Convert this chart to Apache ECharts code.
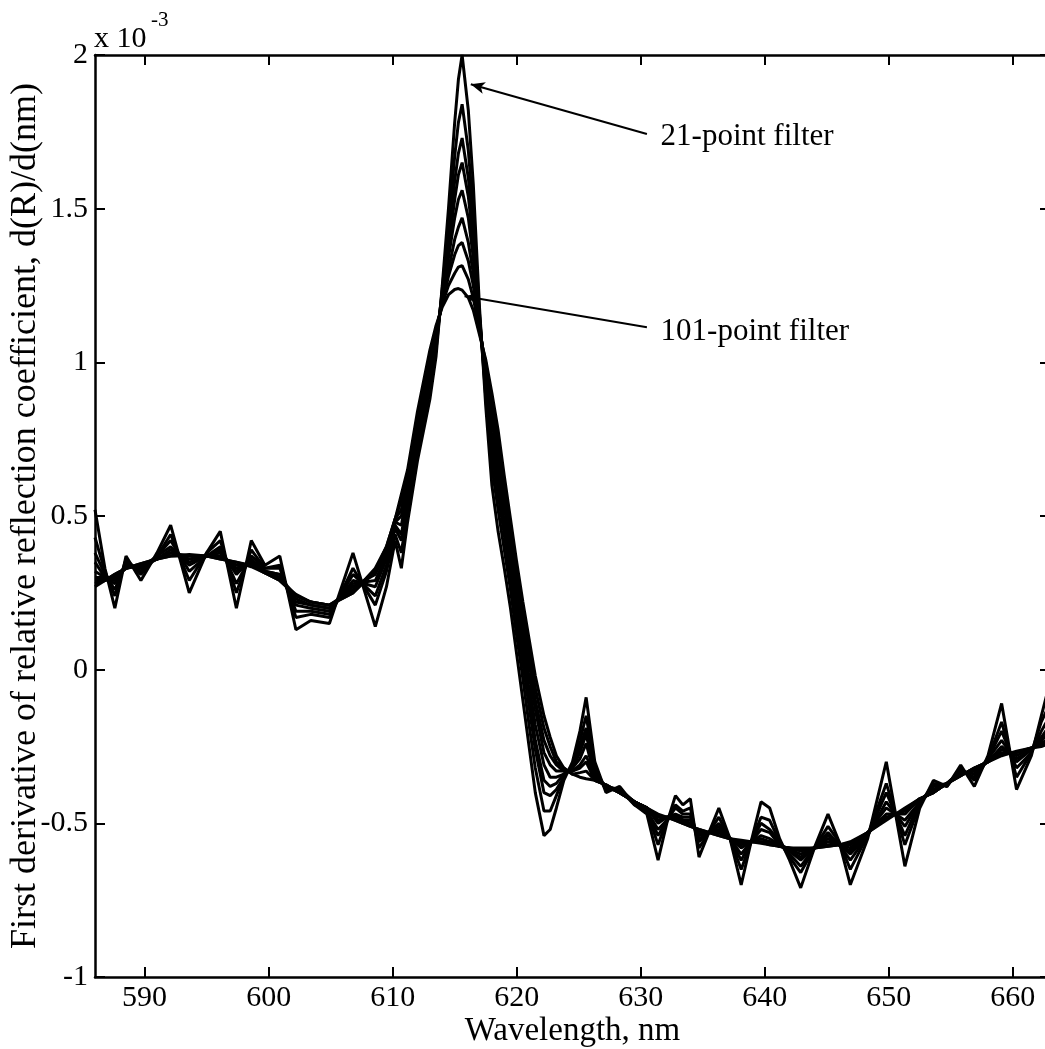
<!DOCTYPE html>
<html><head><meta charset="utf-8">
<script src="https://cdn.jsdelivr.net/npm/echarts@6/dist/echarts.min.js"></script>
<style>html,body{margin:0;padding:0;background:#fff}#c{width:1045px;height:1049px}</style>
</head><body><div id="c"></div>
<script>
// Wavelength grid (nm)
const wavelengths = [
 586, 586.8, 587.6, 588.5, 589.7, 591, 592.1, 593.6, 595, 596.1,
 597.4, 598.6, 599.7, 600.9, 602.2, 603.4, 604.9, 606.8, 608.6, 609.5,
 610.2, 610.7, 611.2, 612, 613, 613.5, 614, 614.5, 615, 615.3,
 615.6, 616.1, 616.5, 617, 617.5, 618, 618.5, 619, 619.5, 620,
 620.5, 621, 621.5, 622.2, 622.7, 623.2, 623.8, 624.5, 625.1, 625.6,
 626.3, 627.2, 628.3, 629.5, 630.5, 631.4, 632.1, 632.8, 633.4, 634.0,
 634.7, 635.5, 636.3, 637.2, 638.1, 638.9, 639.7, 640.4, 641.2, 642.0,
 642.9, 644.0, 645.1, 646.0, 646.9, 648.3, 649.8, 651.3, 652.5, 653.6,
 654.7, 655.8, 656.9, 658.0, 659.1, 660.3, 661.5, 662.3, 663
];
// First derivative values (x 10^-3) for each filter length
const filter21 = [
 0.52, 0.33, 0.20, 0.37, 0.29, 0.38, 0.47, 0.25, 0.38, 0.45,
 0.20, 0.42, 0.34, 0.37, 0.13, 0.16, 0.15, 0.38, 0.14, 0.27,
 0.42, 0.33, 0.48, 0.68, 0.88, 1.02, 1.25, 1.50, 1.78, 1.92,
 2.00, 1.82, 1.58, 1.18, 0.86, 0.60, 0.45, 0.33, 0.20, 0.05,
 -0.10, -0.25, -0.40, -0.54, -0.52, -0.45, -0.36, -0.30, -0.20, -0.09,
 -0.30, -0.40, -0.38, -0.44, -0.47, -0.62, -0.50, -0.41, -0.44, -0.42,
 -0.61, -0.53, -0.45, -0.55, -0.70, -0.56, -0.43, -0.45, -0.55, -0.62,
 -0.71, -0.58, -0.47, -0.56, -0.70, -0.55, -0.30, -0.64, -0.45, -0.36,
 -0.38, -0.31, -0.38, -0.28, -0.11, -0.39, -0.28, -0.15, -0.04
];
const filter31 = [
 0.43, 0.32, 0.24, 0.36, 0.31, 0.37, 0.44, 0.29, 0.38, 0.42,
 0.25, 0.39, 0.33, 0.34, 0.17, 0.18, 0.17, 0.33, 0.21, 0.32,
 0.44, 0.38, 0.52, 0.71, 0.91, 1.04, 1.24, 1.44, 1.67, 1.78,
 1.84, 1.69, 1.49, 1.16, 0.89, 0.66, 0.52, 0.39, 0.26, 0.11,
 -0.03, -0.18, -0.32, -0.46, -0.46, -0.41, -0.35, -0.31, -0.23, -0.15,
 -0.32, -0.39, -0.39, -0.44, -0.46, -0.57, -0.49, -0.44, -0.46, -0.45,
 -0.58, -0.53, -0.48, -0.55, -0.65, -0.56, -0.48, -0.49, -0.56, -0.61,
 -0.66, -0.58, -0.51, -0.56, -0.65, -0.54, -0.37, -0.57, -0.44, -0.37,
 -0.38, -0.32, -0.36, -0.29, -0.17, -0.35, -0.27, -0.17, -0.11
];
const filter41 = [
 0.38, 0.31, 0.26, 0.35, 0.32, 0.37, 0.42, 0.32, 0.37, 0.40,
 0.28, 0.37, 0.33, 0.33, 0.19, 0.19, 0.18, 0.31, 0.24, 0.34,
 0.46, 0.42, 0.54, 0.74, 0.94, 1.06, 1.23, 1.40, 1.59, 1.68,
 1.73, 1.60, 1.43, 1.15, 0.91, 0.71, 0.57, 0.44, 0.30, 0.16,
 0.02, -0.12, -0.26, -0.40, -0.41, -0.39, -0.35, -0.31, -0.25, -0.19,
 -0.33, -0.39, -0.39, -0.43, -0.46, -0.54, -0.49, -0.45, -0.47, -0.47,
 -0.56, -0.53, -0.50, -0.55, -0.62, -0.56, -0.50, -0.52, -0.56, -0.60,
 -0.64, -0.58, -0.53, -0.57, -0.62, -0.54, -0.40, -0.54, -0.43, -0.38,
 -0.37, -0.33, -0.35, -0.29, -0.20, -0.32, -0.27, -0.20, -0.15
];
const filter51 = [
 0.35, 0.30, 0.28, 0.34, 0.33, 0.37, 0.40, 0.34, 0.37, 0.39,
 0.31, 0.36, 0.32, 0.31, 0.21, 0.20, 0.19, 0.29, 0.27, 0.36,
 0.47, 0.44, 0.56, 0.75, 0.95, 1.07, 1.22, 1.37, 1.53, 1.61,
 1.65, 1.54, 1.39, 1.14, 0.93, 0.74, 0.60, 0.47, 0.33, 0.19,
 0.05, -0.09, -0.23, -0.36, -0.38, -0.37, -0.34, -0.32, -0.27, -0.21,
 -0.34, -0.38, -0.39, -0.43, -0.46, -0.52, -0.49, -0.47, -0.48, -0.48,
 -0.55, -0.53, -0.51, -0.55, -0.60, -0.56, -0.52, -0.53, -0.57, -0.59,
 -0.62, -0.58, -0.54, -0.57, -0.60, -0.54, -0.43, -0.51, -0.43, -0.39,
 -0.37, -0.33, -0.34, -0.29, -0.23, -0.30, -0.26, -0.22, -0.18
];
const filter61 = [
 0.32, 0.30, 0.29, 0.34, 0.33, 0.36, 0.39, 0.35, 0.37, 0.38,
 0.32, 0.35, 0.32, 0.31, 0.22, 0.21, 0.20, 0.28, 0.29, 0.37,
 0.48, 0.47, 0.58, 0.77, 0.97, 1.08, 1.21, 1.34, 1.47, 1.53,
 1.56, 1.47, 1.34, 1.13, 0.95, 0.77, 0.64, 0.50, 0.37, 0.22,
 0.09, -0.05, -0.18, -0.31, -0.35, -0.35, -0.34, -0.32, -0.29, -0.24,
 -0.35, -0.38, -0.40, -0.43, -0.45, -0.50, -0.48, -0.47, -0.49, -0.49,
 -0.54, -0.53, -0.52, -0.55, -0.58, -0.56, -0.54, -0.55, -0.57, -0.59,
 -0.61, -0.58, -0.55, -0.57, -0.59, -0.53, -0.45, -0.49, -0.43, -0.39,
 -0.37, -0.34, -0.33, -0.30, -0.25, -0.29, -0.26, -0.23, -0.20
];
const filter71 = [
 0.30, 0.30, 0.30, 0.33, 0.34, 0.36, 0.38, 0.36, 0.37, 0.37,
 0.33, 0.35, 0.32, 0.30, 0.23, 0.21, 0.20, 0.27, 0.31, 0.38,
 0.48, 0.50, 0.60, 0.79, 0.99, 1.09, 1.20, 1.30, 1.40, 1.44,
 1.47, 1.39, 1.29, 1.12, 0.97, 0.81, 0.68, 0.54, 0.40, 0.26,
 0.12, -0.01, -0.13, -0.27, -0.31, -0.33, -0.33, -0.33, -0.31, -0.28,
 -0.35, -0.38, -0.40, -0.43, -0.45, -0.49, -0.48, -0.48, -0.49, -0.50,
 -0.53, -0.53, -0.53, -0.55, -0.57, -0.56, -0.55, -0.56, -0.575, -0.585,
 -0.60, -0.58, -0.56, -0.57, -0.58, -0.53, -0.47, -0.47, -0.42, -0.40,
 -0.37, -0.34, -0.33, -0.30, -0.26, -0.28, -0.255, -0.24, -0.22
];
const filter81 = [
 0.29, 0.29, 0.30, 0.33, 0.34, 0.36, 0.38, 0.37, 0.37, 0.37,
 0.34, 0.34, 0.315, 0.30, 0.24, 0.22, 0.21, 0.26, 0.32, 0.39,
 0.49, 0.52, 0.62, 0.81, 1.01, 1.10, 1.19, 1.28, 1.35, 1.38,
 1.39, 1.33, 1.25, 1.11, 0.98, 0.84, 0.71, 0.57, 0.43, 0.29,
 0.16, 0.03, -0.10, -0.23, -0.28, -0.31, -0.33, -0.33, -0.32, -0.30,
 -0.36, -0.375, -0.40, -0.43, -0.45, -0.48, -0.48, -0.48, -0.50, -0.50,
 -0.53, -0.53, -0.53, -0.55, -0.565, -0.56, -0.56, -0.56, -0.575, -0.58,
 -0.59, -0.58, -0.57, -0.57, -0.57, -0.53, -0.48, -0.46, -0.42, -0.40,
 -0.37, -0.345, -0.32, -0.30, -0.27, -0.27, -0.255, -0.245, -0.23
];
const filter91 = [
 0.28, 0.29, 0.31, 0.33, 0.345, 0.36, 0.37, 0.37, 0.37, 0.36,
 0.35, 0.34, 0.315, 0.29, 0.24, 0.22, 0.21, 0.25, 0.32, 0.40,
 0.49, 0.55, 0.63, 0.82, 1.02, 1.11, 1.19, 1.25, 1.29, 1.31,
 1.315, 1.27, 1.21, 1.10, 1.00, 0.87, 0.75, 0.60, 0.46, 0.32,
 0.19, 0.07, -0.06, -0.19, -0.25, -0.30, -0.32, -0.34, -0.335, -0.33,
 -0.36, -0.375, -0.40, -0.43, -0.45, -0.475, -0.48, -0.49, -0.50, -0.51,
 -0.52, -0.53, -0.54, -0.55, -0.56, -0.56, -0.56, -0.57, -0.575, -0.58,
 -0.585, -0.58, -0.575, -0.57, -0.565, -0.53, -0.485, -0.455, -0.42, -0.40,
 -0.37, -0.345, -0.32, -0.30, -0.275, -0.27, -0.255, -0.245, -0.235
];
const filter101 = [
 0.27, 0.29, 0.31, 0.33, 0.345, 0.36, 0.37, 0.375, 0.37, 0.36,
 0.35, 0.335, 0.315, 0.29, 0.245, 0.22, 0.21, 0.25, 0.33, 0.40,
 0.49, 0.57, 0.65, 0.84, 1.04, 1.12, 1.18, 1.22, 1.237, 1.24,
 1.235, 1.21, 1.17, 1.09, 1.01, 0.90, 0.78, 0.63, 0.49, 0.35,
 0.22, 0.10, -0.02, -0.15, -0.22, -0.28, -0.32, -0.34, -0.35, -0.355,
 -0.36, -0.375, -0.40, -0.43, -0.45, -0.47, -0.48, -0.49, -0.50, -0.51,
 -0.52, -0.53, -0.54, -0.55, -0.555, -0.56, -0.565, -0.57, -0.575, -0.58,
 -0.58, -0.58, -0.575, -0.57, -0.56, -0.53, -0.49, -0.45, -0.42, -0.40,
 -0.37, -0.345, -0.32, -0.30, -0.28, -0.265, -0.255, -0.25, -0.24
];
const seriesNames = ['21-point','31-point','41-point','51-point','61-point','71-point','81-point','91-point','101-point'];
const seriesValues = [filter21, filter31, filter41, filter51, filter61, filter71, filter81, filter91, filter101];
const xTickValues = [590, 600, 610, 620, 630, 640, 650, 660];
const annotations = [
  { text: '21-point filter', from: [630.5, 1.743], to: [616.3, 1.905], label: [631.6, 1.733] },
  { text: '101-point filter', from: [630.5, 1.114], to: [615.8, 1.215], label: [631.6, 1.098] }
];

const FONT = 'Liberation Serif';
const chart = echarts.init(document.getElementById('c'), null, { renderer: 'canvas' });

const series = seriesValues.map((vals, k) => {
  const s = {
    name: seriesNames[k],
    type: 'line',
    data: wavelengths.map((w, i) => [w, vals[i]]),
    showSymbol: false,
    symbol: 'none',
    lineStyle: { color: '#000', width: 3 },
    itemStyle: { color: '#000' },
    z: 2
  };
  if (k === 0) {
    s.markLine = {
      silent: true,
      symbol: ['none', 'arrow'],
      symbolSize: [9, 14],
      lineStyle: { color: '#000', width: 2, type: 'solid' },
      label: { show: false },
      data: annotations.map(a => [{ coord: a.from }, { coord: a.to }])
    };
    s.markPoint = {
      silent: true,
      symbol: 'circle',
      symbolSize: 0,
      itemStyle: { color: 'transparent' },
      label: {
        show: true, position: 'right', distance: 0,
        fontFamily: FONT, fontSize: 31, color: '#000',
        formatter: p => p.name
      },
      data: annotations.map(a => ({ name: a.text, coord: a.label }))
    };
  }
  return s;
});

const axisLineStyle = { color: '#000', width: 2.5 };
chart.setOption({
  animation: false,
  backgroundColor: '#fff',
  grid: { left: 95, top: 55, width: 955, height: 922, containLabel: false, outerBoundsMode: 'none' },
  xAxis: [
    {
      type: 'value', min: 586, max: 663, position: 'bottom',
      name: 'Wavelength, nm', nameLocation: 'middle', nameGap: 38, nameMoveOverlap: false,
      nameTextStyle: { fontFamily: FONT, fontSize: 33, color: '#000' },
      axisLine: { show: true, onZero: false, lineStyle: axisLineStyle },
      axisTick: { show: true, inside: true, length: 10, customValues: xTickValues, lineStyle: { color: '#000', width: 2 } },
      axisLabel: { show: true, customValues: xTickValues, margin: 6, fontFamily: FONT, fontSize: 30, color: '#000' },
      splitLine: { show: false }
    },
    {
      type: 'value', min: 586, max: 663, position: 'top',
      axisLine: { show: true, onZero: false, lineStyle: axisLineStyle },
      axisTick: { show: true, inside: true, length: 10, customValues: xTickValues, lineStyle: { color: '#000', width: 2 } },
      axisLabel: { show: false },
      splitLine: { show: false }
    }
  ],
  yAxis: [
    {
      type: 'value', min: -1, max: 2, interval: 0.5, position: 'left',
      name: 'First derivative of relative reflection coefficient, d(R)/d(nm)',
      nameLocation: 'middle', nameGap: 51, nameRotate: 90, nameMoveOverlap: false,
      nameTextStyle: { fontFamily: FONT, fontSize: 36, color: '#000' },
      axisLine: { show: true, onZero: false, lineStyle: axisLineStyle },
      axisTick: { show: true, inside: true, length: 10, lineStyle: { color: '#000', width: 2 } },
      axisLabel: { show: true, margin: 7, fontFamily: FONT, fontSize: 30, color: '#000' },
      splitLine: { show: false }
    },
    {
      type: 'value', min: -1, max: 2, interval: 0.5, position: 'right',
      axisLine: { show: true, onZero: false, lineStyle: axisLineStyle },
      axisTick: { show: true, inside: true, length: 10, lineStyle: { color: '#000', width: 2 } },
      axisLabel: { show: false },
      splitLine: { show: false }
    }
  ],
  graphic: [
    { type: 'text', left: 94, top: 24, style: { text: 'x 10', fontFamily: FONT, fontSize: 30, fill: '#000' } },
    { type: 'text', left: 151, top: 10, style: { text: '-3', fontFamily: FONT, fontSize: 21, fill: '#000' } }
  ],
  series: series
});
</script>
</body></html>
